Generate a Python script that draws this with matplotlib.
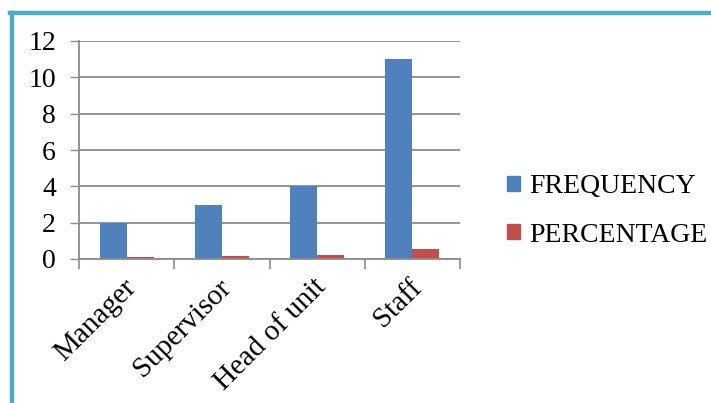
import matplotlib.pyplot as plt
from matplotlib.lines import Line2D
from matplotlib.patches import Patch
import numpy as np

categories = ['Manager', 'Supervisor', 'Head of unit', 'Staff']
frequency = [2, 3, 4, 11]
percentage = [0.10, 0.15, 0.20, 0.55]

BLUE = '#4F81BD'
RED = '#C0504D'
GRID = '#8C8C8C'
FRAME = '#4BACC6'

plt.rcParams['font.family'] = ['Liberation Serif', 'DejaVu Serif']

W, H = 711, 403
fig = plt.figure(figsize=(W / 100, H / 100), dpi=100)

# plot area in pixel units
x0, x1, ytop, ybot = 79, 460, 41, 259
ax = fig.add_axes([x0 / W, (H - ybot) / H, (x1 - x0) / W, (ybot - ytop) / H])

x = np.arange(len(categories))
bw = 0.283
ax.bar(x - bw / 2, frequency, bw, color=BLUE, label='FREQUENCY')
ax.bar(x + bw / 2, percentage, bw, color=RED, label='PERCENTAGE')

ax.set_xlim(-0.5, len(categories) - 0.5)
ax.set_ylim(0, 12)
ax.set_yticks(range(0, 13, 2))
ax.yaxis.grid(True, color=GRID, linewidth=1.3)
ax.set_axisbelow(True)
ax.tick_params(axis='y', length=6.5, width=1, color=GRID, labelsize=20, pad=10)

# category boundaries get the tick marks, names sit in between
ax.set_xticks(np.arange(-0.5, len(categories), 1.0))
ax.set_xticklabels([])
ax.tick_params(axis='x', which='major', length=7, width=1.2, color=GRID)
ax.set_xticks(x - 0.04, minor=True)
ax.set_xticklabels(categories, minor=True, rotation=45, ha='right',
                   rotation_mode='anchor', fontsize=21)
ax.tick_params(axis='x', which='minor', length=0, pad=11)

for s in ['top', 'right']:
    ax.spines[s].set_visible(False)
for s in ['left', 'bottom']:
    ax.spines[s].set_color(GRID)
    ax.spines[s].set_linewidth(1.3)

handles = [Patch(color=BLUE), Patch(color=RED)]
fig.legend(handles, ['FREQUENCY', 'PERCENTAGE'], loc='center left',
           bbox_to_anchor=(482 / W, 1 - 211 / H), frameon=False, fontsize=20,
           handlelength=0.45, handleheight=0.45, handletextpad=0.35,
           labelspacing=0.85)

# outer frame along top and left edge
fig.add_artist(Line2D([10 / W, 1], [1 - 13 / H, 1 - 13 / H], color=FRAME,
                      linewidth=3.2, transform=fig.transFigure))
fig.add_artist(Line2D([12 / W, 12 / W], [0, 1 - 13 / H], color=FRAME,
                      linewidth=3.2, transform=fig.transFigure))

fig.savefig('out.png', dpi=100)
